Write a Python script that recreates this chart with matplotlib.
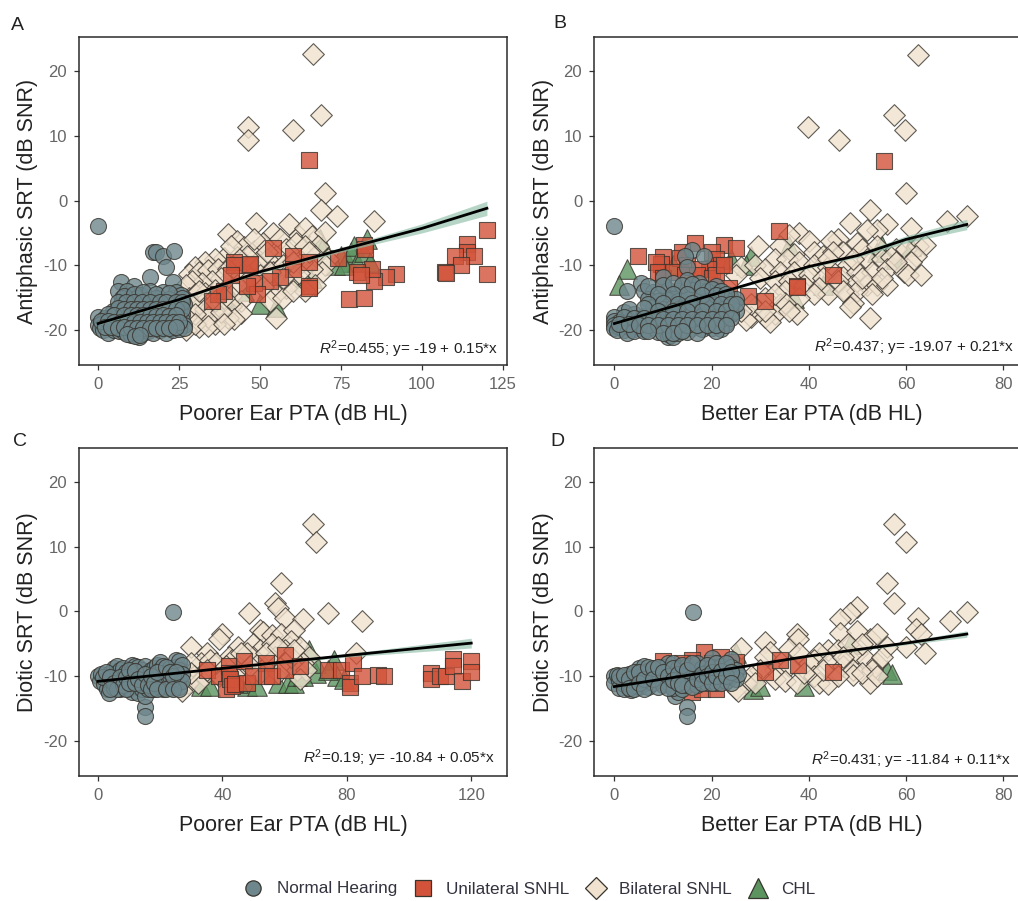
import matplotlib
matplotlib.use('Agg')
import matplotlib.pyplot as plt
from matplotlib.lines import Line2D

plt.rcParams['font.family'] = ['Liberation Sans', 'DejaVu Sans']
plt.rcParams['mathtext.fontset'] = 'custom'
plt.rcParams['mathtext.it'] = 'Liberation Sans:italic'
plt.rcParams['mathtext.rm'] = 'Liberation Sans'
plt.rcParams['axes.unicode_minus'] = False

# values, (PTA, SRT)
nh_a = [(0,-4),(17,-7.9),(18,-8),(20,-8.6),(23.5,-7.8),(21,-10.3),(16,-11.8),(7,-12.6),(11,-13.2),(23,-12.6),
        (6,-13.9),(9,-14),(13,-14.6),(16,-14),(20,-14.2),(24,-14.2),(25.5,-14.6),(7.5,-15),(10,-15.2),(12,-15),(15,-15.3),(18,-15),(22,-15.2),
        (7,-16),(9,-16.3),(11,-16),(13,-16.4),(15,-16.2),(17,-16.5),(19,-16),(21,-16.3),(23,-16),(25,-16.2),(26.5,-16),
        (4.5,-17),(7,-17.2),(9,-17),(11,-17.3),(13,-17),(15,-17.4),(17,-17.1),(19,-17.4),(21,-17),(23,-17.3),(25,-17),(26,-17.6),
        (0,-18),(2,-18.2),(4,-18),(6,-18.3),(8,-18.1),(10,-18.4),(12,-18.1),(14,-18.4),(16,-18.2),(18,-18.4),(20,-18.1),(22,-18.4),(24,-18.1),(26,-18.4),
        (0,-19.2),(1,-19),(3,-19.2),(5,-19),(7,-19.3),(9,-19),(11,-19.3),(13,-19),(15,-19.3),(17,-19),(19,-19.3),(21,-19),(23,-19.3),(25,-19),(26.5,-19.3),
        (0.5,-19.7),(1.5,-20),(3,-20.4),(5,-20),(6.5,-20.1),(8,-20.3),(10,-20.7),(11,-20.5),(12.5,-21.1),(14,-20.5),(15.5,-20.2),(17,-20.5),(19,-20),(21,-20.4),(23,-20),(25,-19.8),(26.5,-19.7),
        (8,-14.8),(11,-14.5),(14,-14.2),(18,-14.4),(22,-14.3),(26,-15),(6,-15.6),(8.5,-15.7),(11,-15.6),(13.5,-15.7),(16,-15.7),(19,-15.6),(21,-15.7),(24,-15.6),(26,-15.6),
        (6,-16.6),(8,-16.7),(10,-16.7),(12,-16.7),(14,-16.8),(16,-16.8),(18,-16.7),(20,-16.8),(22,-16.7),(24,-16.7),(26,-16.8),
        (3,-17.6),(5,-17.7),(8,-17.7),(10,-17.7),(12,-17.7),(14,-17.7),(16,-17.8),(18,-17.8),(20,-17.7),(22,-17.8),(24,-17.7),
        (1,-18.6),(3,-18.6),(5,-18.7),(7,-18.7),(9,-18.7),(11,-18.7),(13,-18.7),(15,-18.7),(17,-18.7),(19,-18.7),(21,-18.7),(23,-18.7),(25,-18.7),
        (2,-19.6),(4,-19.6),(6,-19.7),(8,-19.6),(10,-19.7),(12,-19.7),(14,-19.7),(16,-19.7),(18,-19.7),(20,-19.7),(22,-19.7),(24,-19.6),(9,-20.6),(11.5,-20.9),(13,-20.8)]
ub_a = [(65,6.2),(120,-4.6),(120,-11.4),(114,-6.7),(114,-8),(116,-8.5),(110,-8.6),(112,-10),(107,-11),(107.5,-11.2),(92,-11.4),(89,-11.8),(85,-12.5),(84.5,-10.5),(80,-11),(81,-11.5),
        (82,-6.8),(82.5,-7.5),(74,-8.8),(77.5,-15.2),(82,-15),(65,-9.5),(65,-13.2),(65,-13.5),(60,-8.5),(60,-10.5),(54,-7.3),(56,-11.8),(53,-12.5),(48,-12.8),(49,-14.5),(46,-13.2),(46.5,-10),(47,-9.8),(42,-9.5),(42,-10),(41,-11.5),(39,-14),(37,-14.5),(35,-15.5)]
bi_a = [(66.3,22.6),(68.9,13.2),(60,10.9),(46.4,11.4),(46.4,9.3),(69.9,1.1),(68.8,-1.5),(73.8,-2.4),(85.1,-3.2),(48.8,-3.5),(40,-5.2),(43,-6.3),(54,-5),(59,-3.6),(62,-5.5),(64,-4.2),(66,-5.5),(70,-4.8),(68,-7),(71,-9),
        (45,-7.2),(48,-7.8),(51,-6.5),(56,-6),(58,-7.5),(61,-6.5),(64,-7),(67,-8.5),(70,-10),(69,-11),(66,-10.5),(63,-9.5),(60,-12),(55,-8.5),(52,-9),(49,-9.5),(46,-8.5),(43,-8.7),(39,-8.8),(36,-9),(33,-9.5),(30,-10.3),
        (28,-11.3),(31,-11),(34,-10.8),(37,-10.5),(40,-10.5),(44,-11.5),(50,-11.5),(54,-11),(57,-10),(62,-11.2),(67,-13),(64,-14),(58,-13.5),(55,-14.5),(51,-13.3),(47,-12),(43,-13),(38,-12),(35,-12.5),(32,-12.8),(29,-12.5),(27,-13),
        (28,-15),(30,-14.5),(33,-14.3),(36,-13.8),(41,-14.8),(44,-15.5),(53,-15.5),(57,-15),(60,-14),(30,-16.2),(32,-16),(35,-17),(38,-16),(41,-16.3),(44,-17.3),(28,-17),(31,-18),(33,-18.3),(37,-18),(40,-18.2),(42,-18.3),(28,-19),(31,-19.5),(55,-18.2),(36,-19),(27,-20),
        (29,-16),(33,-16.8),(36,-15.5),(39,-15),(34,-18),(30,-17.5),(38,-17.2),(27,-18),(30,-19),(34,-19.4),(39,-19),(52,-8),(57,-12),(48,-6),(53,-11),(60,-9.5),(65,-8),(41,-7),(31,-14)]
chl_a = [(68.5,-6),(69,-7.5),(75,-8.5),(77,-9.5),(78,-8),(79,-7),(80,-9.5),(82,-8),(83,-6),(84,-9.5),(62,-12.5),(50,-16),(55,-16.5),(45,-14),(36,-14.5),(41,-15),(66,-12),(73,-10),(76,-10)]

nh_b = [(0,-4),(16,-7.7),(14.5,-8.5),(18.5,-8.5),(15,-10.3),(10,-11.8),(5.5,-12.8),(15,-12.2),(17.5,-12.8),(21,-13.2),
        (2.5,-13.9),(6,-14),(8,-14.2),(11,-13.8),(13,-14),(16,-13.8),(19,-14),(24,-15),(25,-15.2),(7,-15.2),(9,-15.5),(11,-15.3),(13,-15.5),(15,-15.2),(17,-15.5),(19,-15.3),(21,-15.5),(23,-15.3),
        (8,-16.5),(10,-16.7),(12,-16.5),(14,-16.8),(16,-16.5),(18,-16.8),(20,-16.5),(22,-16.8),(24,-16.6),(25,-17),
        (2,-17.2),(4,-17.5),(6,-17.8),(8,-17.6),(10,-17.9),(12,-17.6),(14,-17.9),(16,-17.6),(18,-17.9),(20,-17.6),(22,-17.9),(24,-17.6),
        (0,-18),(0,-18.6),(1,-18.7),(3,-18.6),(5,-18.7),(7,-18.9),(9,-18.6),(11,-18.9),(13,-18.6),(15,-18.9),(17,-18.6),(19,-18.9),(21,-18.6),(23,-18.9),
        (0,-19.3),(0,-19.7),(1,-19.6),(2,-20),(3,-19.6),(4,-19.9),(5,-19.6),(6,-19.9),(8,-19.6),(10,-19.9),(12,-19.7),(14,-19.9),(16,-19.7),(18,-19.9),(20,-19.7),(22,-19.9),
        (0.5,-20),(2.5,-20.4),(4,-20.2),(6,-20.2),(9,-20.3),(11,-21),(11.5,-20.7),(12,-21.1),(13,-20.5),(15,-20.3),(17,-20.4),(21,-20.2),
        (7,-13.2),(10,-13),(12,-12.8),(14,-13),(16,-12.9),(18,-13.4),(20,-13.6),(22,-14),(9,-14.5),(12,-14.4),(15,-14.5),(18,-14.6),(21,-14.6),(23,-14.4),
        (7,-16),(10,-15.9),(13,-16),(16,-15.9),(19,-16),(22,-16),(24,-16),(3,-16.8),(6,-16.6),(9,-17),(12,-17),(15,-17),(18,-17.1),(21,-17.1),(23,-17),(25,-16),
        (2,-18),(4,-18.1),(6,-18.2),(8,-18.3),(10,-18.3),(12,-18.3),(14,-18.3),(16,-18.3),(18,-18.3),(20,-18.3),(22,-18.3),(24,-18.2),
        (1,-19.1),(3,-19.1),(5,-19.2),(7,-19.3),(9,-19.3),(11,-19.3),(13,-19.3),(15,-19.3),(17,-19.3),(19,-19.3),(21,-19.3),(23,-19.3),(10,-20.5),(12,-20.4),(14,-20.2),(7,-20.2)]
ub_b = [(55.5,6.1),(33.8,-4.7),(4.9,-8.6),(10,-8.7),(9.5,-9.8),(16.5,-6.6),(22.5,-6.9),(25,-7.4),(14,-8),(20,-8),(21,-9),(22,-10),(19.5,-10.5),(13.5,-8.8),(15,-10),(17.5,-10.5),
        (8.5,-9.5),(9,-11),(10,-12),(12,-11),(14.5,-11.5),(17,-11.5),(20,-12),(21,-11.5),(23.5,-13.5),(27.5,-14.7),(31,-15.5),(37.5,-13.2),(37.6,-13.4),(45,-11.5),(22.5,-10)]
bi_b = [(62.5,22.5),(57.5,13.2),(59.8,10.9),(39.8,11.4),(46.3,9.4),(60,1.1),(52.5,-1.5),(48.5,-3.5),(68.5,-3.2),(72.5,-2.4),(56,-3.6),(61,-4.2),(54,-4.5),(52,-4.6),(38,-5),(36,-5.3),(40,-6.2),(29.5,-7),(46,-6),(44.5,-6.3),(50,-6.5),(62.5,-7),(64,-6.8),
        (34,-7),(37,-8.2),(41,-8),(43,-8.5),(47,-8),(51,-7.5),(54,-7),(58,-7.5),(60,-7.5),(62,-8.5),(33,-9),(35.5,-9),(38,-9.5),(41,-10),(44,-10.2),(48,-10),(52,-9),(55,-9),(57,-8.7),(61,-9.5),
        (26,-10.3),(29,-10),(31,-10.5),(34,-11),(37,-11),(40,-11.5),(43,-12),(47,-11.8),(50,-11),(53,-11),(56,-10.5),(59.5,-11),(60.5,-11.5),(63,-11.5),
        (25,-11.5),(30,-12),(33,-12.5),(36,-12.5),(39,-13),(42,-13.5),(46,-13),(49,-13),(52,-13),(54,-13),(56,-13),(44,-14.5),(41,-14.5),(35,-14),(48,-14.5),(50,-14),(53,-14.5),(38,-15),(31,-15),(34,-16),(29,-16.5),
        (37.5,-17.5),(33,-17.5),(49,-15.8),(48.5,-16.5),(28,-18),(31,-18),(32,-18.8),(27,-18.5),(52.6,-18.2),(35,-15.8),
        (49,-9),(51,-12),(46,-12.5),(55,-12),(45,-8),(58,-9.5),(28,-16),(31,-17),(26,-17),(36,-17),(33,-14.5),(44,-9),(47,-14)]
chl_b = [(2.5,-10.5),(1,-13),(36,-7),(28,-8.5),(12,-10),(24,-9),(37,-15),(43,-13),(54,-8),(58,-9),(55,-7),(61,-7),(27,-10)]

nh_c = [(24,-0.1),(15,-14.7),(15,-16.2),(0,-10),(0.5,-10.8),(1,-9.6),(2,-11.2),(3,-10.4),(3,-12),(4,-9.5),(4,-11),(3.5,-12.6),(5,-8.7),(5,-10),(5,-11.8),(6,-8.5),(6,-9.5),(6,-10.6),(7,-9),(7,-11.4),(7,-12),
        (8,-10),(8,-8.8),(9,-11),(9,-9.4),(10,-10),(10,-12),(11,-8.3),(11,-9.2),(11,-11),(11,-12.4),(12,-8.5),(12,-10),(12.5,-11.5),(13,-8.6),(13,-9.5),(13,-12.6),(14,-10.6),(14,-9),(14,-12),(15,-8.5),(15,-11),(15,-13),
        (16,-9.5),(16,-10.5),(16,-12),(17,-9),(17,-11),(18,-8.8),(18,-10),(18,-12),(19,-8.2),(19,-11),(20,-7.8),(20,-9),(20,-10.4),(20,-11.6),(21,-8.5),(21,-10),(21,-12),(22,-9.4),(22,-11),(23,-8.7),(23,-10),(23,-11.8),
        (24,-9),(24,-11),(25,-7.5),(25,-8.6),(25,-10),(25,-11.4),(26,-7.6),(26,-9),(26,-10.4),(26,-11.6),(27,-8.3),(27,-9.6),(27,-10.8),
        (1.5,-10.2),(2.5,-9.4),(4,-10.2),(5,-11),(6,-12),(7,-10.2),(8,-11.4),(9,-10.2),(9,-12),(10,-9),(10,-11),(12,-9.2),(12,-11),(13,-10.4),(14,-11.4),(15,-9.6),(16,-11.4),(17,-10),(17,-12),(18,-11),(19,-9.4),(19,-12),(22,-8.6),(22,-12),(23,-9.4),(24,-10),(24,-12),(25,-9.4),(26,-12),(4,-12)]
ub_c = [(35,-9),(39,-10),(41,-12),(42,-8.5),(42,-9.5),(42.5,-10.5),(43,-11.5),(44,-11.2),(47,-7.7),(48,-11),(50,-10),(54,-8),(54,-10),(56,-10),(60,-6.8),(60,-9),(65,-8.5),(74,-9),(78,-9),(82,-8),(81,-11),(81,-11.6),(85,-10),(90,-9.8),(92,-10),
        (107,-9.5),(107,-10.5),(110,-10),(112,-10),(114,-7.3),(114,-8.5),(117,-10.7),(120,-7.7),(120,-9.3)]
bi_c = [(69,13.5),(70,10.7),(59,4.4),(48.5,-0.3),(57,1.3),(58,0.5),(60,-1),(66,-1.2),(74,-0.2),(85,-1.5),(52,-2.8),(40,-3.5),(39,-4.2),(53,-3.2),(56,-3.6),(59,-3.5),(63,-2.8),(62,-4.5),(30,-5.5),(35,-6.5),(45,-5.5),(42,-7),(50,-5),(52,-6),(56,-5),(60,-6),(65,-5.5),(68,-7),(83,-6.5),(66,-8),
        (33,-8),(30,-8),(28,-9.5),(31,-10),(34,-10),(27,-11.5),(29,-11),(27,-12.3),(37,-9),(39,-10),(45,-9),(47,-8),(50,-7),(55,-8),(57,-7),(60,-8),(64,-9),(67,-9),(65,-10.5),(52,-9.5),(43,-7.5),(36,-7.5),(32,-11),(48,-6.5),(62,-7),(58,-9.5),
        (46,-6.5),(49,-8.5),(54,-6.5),(58,-5.5),(63,-6),(38,-8),(41,-8.5),(35,-9),(30,-9.5)]
chl_c = [(33,-11.5),(36,-11.5),(48,-11.5),(51,-11.5),(58,-11),(61,-11),(63,-11),(64,-10),(70,-9.5),(70,-8),(76,-7.5),(77,-10),(66,-10),(45,-11),(74,-9),(79,-10.5),(68,-6)]

nh_d = [(16.2,-0.1),(15,-14.7),(15,-16.2),(12.5,-13),(13,-12.4),(0,-10),(0,-11),(0.5,-9.8),(1,-10.8),(1,-11.8),(2,-10.2),(2,-11.2),(2,-12),(3,-9.6),(3,-11),(3.5,-12.2),(4,-10),(4,-11.4),(5,-8.8),(5,-10.2),(5,-11.6),
        (6,-8.5),(6,-9.6),(6,-11),(7,-9.2),(7,-10.4),(7,-11.6),(8,-9.8),(8,-11),(9,-9.4),(9,-10.6),(10,-8.6),(10,-10),(10,-11.4),(11,-8),(11,-9),(11,-11),(12,-8),(12,-9.6),(12,-11.8),(13,-8.8),(13,-10.2),
        (14,-9),(14,-10.6),(14,-12),(15,-8.4),(15,-10),(15,-11.4),(16,-9),(16,-10.6),(17,-8),(17,-9.6),(17,-11.4),(18,-8.8),(18,-10.2),(19,-9.4),(19,-11),(20,-7.2),(20,-8.6),(20,-10),(21,-9.4),(21,-11),
        (22,-8.4),(22,-10),(23,-9),(23,-10.8),(24,-7.4),(24,-8.6),(24,-10),(25,-9),(25,-10.4),(25.5,-9.6),
        (1,-10),(2,-9.8),(3,-10.4),(3,-11.8),(4,-9.4),(4,-12),(5,-9.4),(5,-11),(6,-10.4),(6,-12),(7,-8.6),(8,-8.8),(8,-10.4),(9,-8.6),(9,-11.6),(10,-9.4),(11,-10),(11,-11.8),(12,-8.8),(12,-10.6),(13,-9.6),(13,-11),(14,-8.2),(14,-11.4),(15,-9),(16,-8),(16,-11.6),(17,-10.4),(18,-9.6),(18,-11),(19,-8.2),(19,-10),(20,-9.4),(20,-11),(21,-8),(21,-10),(22,-9.2),(22,-11),(23,-8),(23,-10),(24,-9.4),(24,-11)]
ub_d = [(10,-7.7),(18.5,-6.3),(22,-7),(16,-7.5),(25,-7.8),(31,-9.3),(34,-7.5),(37.7,-8.3),(45,-9.3),(16,-12.5),(18,-12),(21,-12),(14,-8),(20,-8)]
bi_d = [(57.5,13.5),(60,10.7),(56,4.4),(57.5,1.3),(50,0.6),(48.5,-0.2),(72.5,-0.1),(62.5,-1),(69,-1.5),(46.5,-1.2),(62,-2.7),(63,-3.5),(46.5,-3.3),(50,-3),(52.5,-4.2),(54,-3.5),(37.5,-3.5),(37.8,-4.2),(31,-4.7),(26,-5.7),(36,-5.8),(32,-6.2),(44,-6),(46,-6),(60,-5.5),(64,-6.5),(56,-5.5),(42,-6.5),
        (31,-7),(38,-6.5),(41,-7.5),(48,-7),(50,-6.5),(52,-7.5),(54,-8),(33,-9),(36,-8.5),(40,-8),(44,-8),(47,-8.5),(49,-9),(53,-9),(55,-7),(30,-9),(28,-10),(27,-11),(25,-12),(25.5,-12.3),(33,-10.5),(35,-10.8),(37.5,-11),(41,-10),(42,-11),(44,-11.2),(49,-9.8),(52.5,-11),(51,-9.5),
        (43,-9),(46,-10),(48,-5),(51,-5),(54,-10),(47,-7),(39,-9.5),(29,-11)]
chl_d = [(48.5,-5),(56,-9),(57.2,-9.7),(28.5,-12),(30,-11.5),(39,-11.5),(25,-6.5)]

# trend lines and their bands
line_a_x = [0, 25, 50, 75, 100, 120]
line_a_y = [-19, -15.3, -11, -7.6, -4.3, -1.2]
line_a_w = [0.2, 0.2, 0.2, 0.35, 0.7, 1.1]
line_b_x = [0, 20, 40, 50, 60, 72.5]
line_b_y = [-19, -14.6, -10.2, -8.5, -6, -3.7]
line_b_w = [0.15, 0.15, 0.2, 0.3, 0.55, 0.8]
line_c_x = [0, 40, 80, 120]
line_c_y = [-10.8, -8.8, -6.8, -4.9]
line_c_w = [0.1, 0.1, 0.25, 0.75]
line_d_x = [0, 20, 40, 60, 72.5]
line_d_y = [-11.6, -9.3, -6.9, -4.9, -3.5]
line_d_w = [0.1, 0.1, 0.1, 0.25, 0.5]

W, H = 1018, 901
col_nh = '#6E878C'
col_ub = '#D2533A'
col_bi = '#F0E2CF'
col_chl = '#5C9460'
edge = '#38342E'
txt = '#222222'
tickc = '#666666'


def scat(ax, pts, marker, size, col, z):
    ax.scatter([p[0] for p in pts], [p[1] for p in pts], marker=marker, s=size, c=col,
               edgecolors=edge, linewidths=0.8, alpha=0.8, zorder=z)


def panel(box, xlim, ylim, xticks, xlabel, ylabel, nh, ub, bi, chl, lx, ly, lw, note, note_xy, letter, letter_xy, ylab_x):
    l, t, r, b = box
    ax = fig.add_axes([l / W, 1 - b / H, (r - l) / W, (b - t) / H])
    scat(ax, chl, '^', 200, col_chl, 2)
    scat(ax, bi, 'D', 122, col_bi, 3)
    scat(ax, ub, 's', 133, col_ub, 4)
    scat(ax, nh, 'o', 133, col_nh, 5)
    lo = [y - w for y, w in zip(ly, lw)]
    hi = [y + w for y, w in zip(ly, lw)]
    ax.fill_between(lx, lo, hi, color='#8FBFAA', alpha=0.65, lw=0, zorder=6)
    ax.plot(lx, ly, color='black', lw=2.0, zorder=7)
    ax.set_xlim(xlim)
    ax.set_ylim(ylim)
    ax.set_xticks(xticks)
    ax.set_yticks([-20, -10, 0, 10, 20])
    ax.tick_params(length=3.5, width=0.9, color='#333333', labelcolor=tickc, labelsize=12, pad=5)
    for s in ax.spines.values():
        s.set_color('#2B2B2B')
        s.set_linewidth(1.1)
    ax.set_xlabel(xlabel, fontsize=15.5, color=txt, labelpad=9)
    ax.set_ylabel(ylabel, fontsize=15.5, color=txt)
    ax.yaxis.set_label_coords((ylab_x - l) / (r - l), 0.5)
    fig.text(note_xy[0] / W, 1 - note_xy[1] / H, note, ha='right', va='center', fontsize=11, color='#222222')
    fig.text(letter_xy[0] / W, 1 - letter_xy[1] / H, letter, ha='center', va='center', fontsize=14, color=txt)
    return ax


fig = plt.figure(figsize=(W / 100, H / 100), dpi=100)

panel((79, 37, 507, 365), (-5.9, 126.2), (-25.4, 25.25), [0, 25, 50, 75, 100, 125], 'Poorer Ear PTA (dB HL)', 'Antiphasic SRT (dB SNR)',
      nh_a, ub_a, bi_a, chl_a, line_a_x, line_a_y, line_a_w, r'$\mathit{R}^{2}$=0.455; y= -19 + 0.15*x', (498, 349), 'A', (17, 25), 38)
panel((594, 37, 1030, 365), (-4.2, 85.5), (-25.4, 25.25), [0, 20, 40, 60, 80], 'Better Ear PTA (dB HL)', 'Antiphasic SRT (dB SNR)',
      nh_b, ub_b, bi_b, chl_b, line_b_x, line_b_y, line_b_w, r'$\mathit{R}^{2}$=0.437; y= -19.07 + 0.21*x', (1014, 347), 'B', (560, 24), 554)
panel((79, 448, 507, 776), (-6.1, 131.5), (-25.4, 25.2), [0, 40, 80, 120], 'Poorer Ear PTA (dB HL)', 'Diotic SRT (dB SNR)',
      nh_c, ub_c, bi_c, chl_c, line_c_x, line_c_y, line_c_w, r'$\mathit{R}^{2}$=0.19; y= -10.84 + 0.05*x', (495, 758), 'C', (20, 441), 38)
panel((594, 448, 1030, 776), (-4.2, 85.5), (-25.4, 25.2), [0, 20, 40, 60, 80], 'Better Ear PTA (dB HL)', 'Diotic SRT (dB SNR)',
      nh_d, ub_d, bi_d, chl_d, line_d_x, line_d_y, line_d_w, r'$\mathit{R}^{2}$=0.431; y= -11.84 + 0.11*x', (1011, 760), 'D', (557, 441), 554)

handles = [Line2D([], [], ls='', marker='o', ms=11, mfc=col_nh, mec=edge, mew=0.9, label='Normal Hearing'),
           Line2D([], [], ls='', marker='s', ms=11, mfc=col_ub, mec=edge, mew=0.9, label='Unilateral SNHL'),
           Line2D([], [], ls='', marker='D', ms=11, mfc=col_bi, mec=edge, mew=0.9, label='Bilateral SNHL'),
           Line2D([], [], ls='', marker='^', ms=15, mfc=col_chl, mec=edge, mew=0.9, label='CHL')]
fig.legend(handles=handles, loc='center', bbox_to_anchor=(526 / W, 1 - 889 / H), ncol=4, frameon=False, fontsize=12.3,
           handletextpad=0.35, columnspacing=0.55, labelcolor='#33333F', borderpad=0)

fig.savefig('out.png', dpi=100)
